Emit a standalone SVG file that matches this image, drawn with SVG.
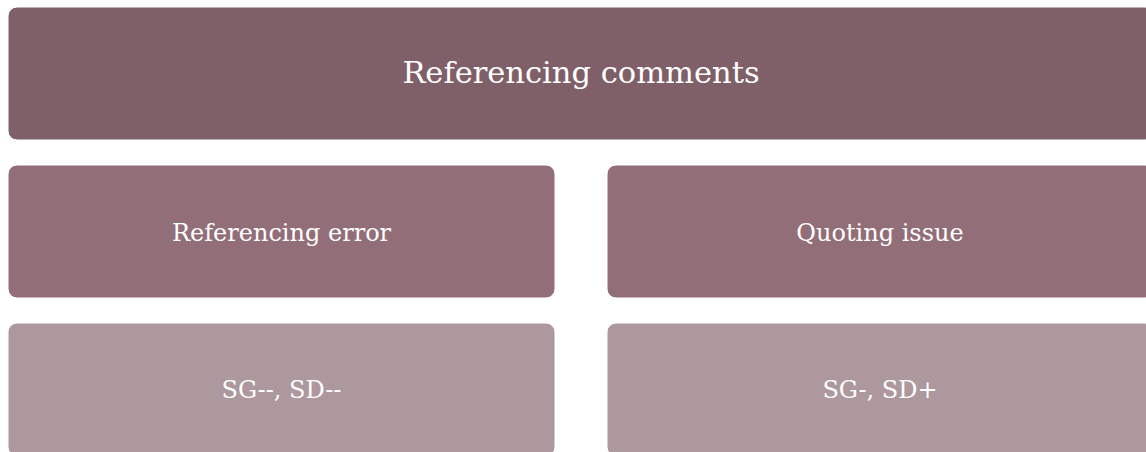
<svg xmlns="http://www.w3.org/2000/svg" width="1146" height="452" viewBox="0 0 1146 452">
  <style>
    .box { stroke: #ffffff; stroke-width: 1; }
    .l1 { fill: #7F5F68; }
    .l2 { fill: #926E78; }
    .l3 { fill: #AD989E; }
    .t { font-family: "DejaVu Serif", "Liberation Serif", serif; fill: #ffffff; text-anchor: middle; }
    .big { font-size: 30.5px; }
    .mid { font-size: 24px; }
  </style>
  <rect width="1146" height="452" fill="#ffffff"/>
  <g id="node-referencing-comments">
    <rect class="box l1" x="8" y="7" width="1146" height="133" rx="9"/>
    <text class="t big" x="581" y="83">Referencing comments</text>
  </g>
  <g id="node-referencing-error">
    <rect class="box l2" x="8" y="165" width="547" height="133" rx="9"/>
    <text class="t mid" x="281.5" y="241">Referencing error</text>
  </g>
  <g id="node-quoting-issue">
    <rect class="box l2" x="607" y="165" width="547" height="133" rx="9"/>
    <text class="t mid" x="880" y="241">Quoting issue</text>
  </g>
  <g id="node-sg-sd-minus">
    <rect class="box l3" x="8" y="323" width="547" height="133" rx="9"/>
    <text class="t mid" x="281.5" y="398">SG--, SD--</text>
  </g>
  <g id="node-sg-sd-plus">
    <rect class="box l3" x="607" y="323" width="547" height="133" rx="9"/>
    <text class="t mid" x="880" y="398">SG-, SD+</text>
  </g>
  <g id="connectors"></g>
</svg>
